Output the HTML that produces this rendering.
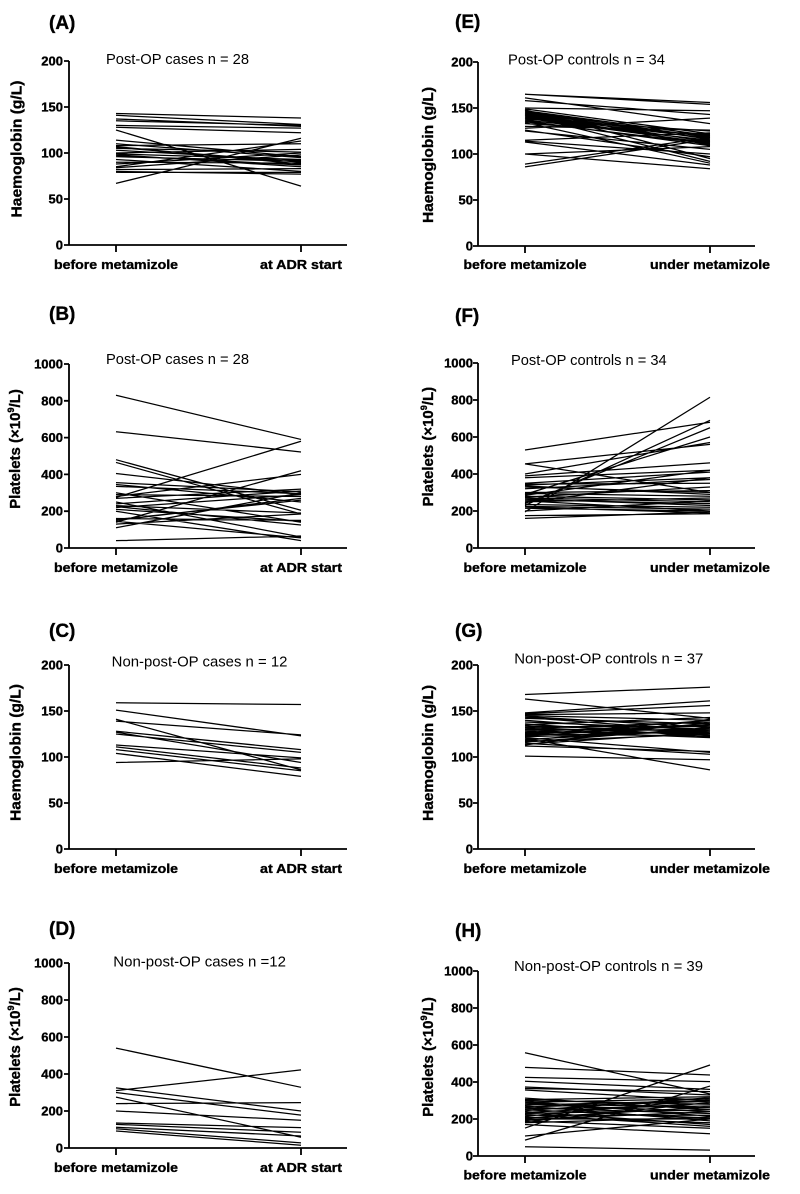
<!DOCTYPE html>
<html>
<head>
<meta charset="utf-8">
<style>
html,body{margin:0;padding:0;background:#fff;}
svg{display:block;}
text{font-family:"Liberation Sans",Arial,sans-serif;fill:#000;}
.tk{font-size:13px;font-weight:bold;text-anchor:end;stroke:#000;stroke-width:0.35;}
.cat{font-size:13px;font-weight:bold;text-anchor:middle;stroke:#000;stroke-width:0.35;}
.ttl{font-size:19px;font-weight:bold;stroke:#000;stroke-width:0.35;}
.sub{font-size:14.7px;}
.yl{font-size:15px;font-weight:bold;text-anchor:middle;stroke:#000;stroke-width:0.35;}
.ax{stroke:#000;stroke-width:1.8;fill:none;}
.dl{stroke:#000;stroke-width:1.25;fill:none;vector-effect:non-scaling-stroke;}
</style>
</head>
<body>
<svg width="800" height="1194" viewBox="0 0 800 1194" xmlns="http://www.w3.org/2000/svg">

<!-- Panel A -->
<g transform="translate(69,245)">
  <text class="ttl" x="-20" y="-216">(A)</text>
  <text class="sub" x="37" y="-181" textLength="143" lengthAdjust="spacingAndGlyphs">Post-OP cases n = 28</text>
  <path class="ax" d="M0,-184V0H278M-5,0H0M-5,-46H0M-5,-92H0M-5,-138H0M-5,-184H0M47,0V7M232,0V7"/>
  <text class="tk" x="-6" y="4.5">0</text>
  <text class="tk" x="-6" y="-41.5">50</text>
  <text class="tk" x="-6" y="-87.5">100</text>
  <text class="tk" x="-6" y="-133.5">150</text>
  <text class="tk" x="-6" y="-179.5">200</text>
  <text class="cat" x="47" y="24" textLength="124" lengthAdjust="spacingAndGlyphs">before metamizole</text>
  <text class="cat" x="232" y="24" textLength="82" lengthAdjust="spacingAndGlyphs">at ADR start</text>
  <text class="yl" transform="translate(-47.5,-96) rotate(-90)" textLength="137" lengthAdjust="spacingAndGlyphs">Haemoglobin (g/L)</text>
</g>
<path class="dl" transform="translate(116,245) scale(185,-0.92)" d="M0 143L1 138M0 141L1 131M0 137L1 129M0 135L1 130M0 130L1 127M0 128L1 122M0 125L1 64M0 114L1 96M0 110L1 95M0 108L1 110M0 107L1 88M0 106L1 90M0 105L1 101M0 103L1 92M0 100L1 104M0 99L1 93M0 98L1 85M0 97L1 87M0 96L1 91M0 93L1 80M0 90L1 89M0 88L1 100M0 85L1 113M0 84L1 98M0 82L1 83M0 80L1 77M0 79L1 79M0 67L1 116"/>

<!-- Panel B -->
<g transform="translate(69,548)">
  <text class="ttl" x="-20" y="-228">(B)</text>
  <text class="sub" x="37" y="-184" textLength="143" lengthAdjust="spacingAndGlyphs">Post-OP cases n = 28</text>
  <path class="ax" d="M0,-184V0H278M-5,0H0M-5,-36.8H0M-5,-73.6H0M-5,-110.4H0M-5,-147.2H0M-5,-184H0M47,0V7M232,0V7"/>
  <text class="tk" x="-6" y="4.5">0</text>
  <text class="tk" x="-6" y="-32.3">200</text>
  <text class="tk" x="-6" y="-69.1">400</text>
  <text class="tk" x="-6" y="-105.9">600</text>
  <text class="tk" x="-6" y="-142.7">800</text>
  <text class="tk" x="-6" y="-179.5">1000</text>
  <text class="cat" x="47" y="24" textLength="124" lengthAdjust="spacingAndGlyphs">before metamizole</text>
  <text class="cat" x="232" y="24" textLength="82" lengthAdjust="spacingAndGlyphs">at ADR start</text>
  <text class="yl" transform="translate(-49,-99) rotate(-90)">Platelets (×10<tspan font-size="9" dy="-6">9</tspan><tspan dy="6">/L)</tspan></text>
</g>
<path class="dl" transform="translate(116,548) scale(185,-0.184)" d="M0 830L1 590M0 632L1 522M0 480L1 205M0 465L1 185M0 405L1 290M0 355L1 305M0 345L1 250M0 335L1 295M0 300L1 140M0 290L1 280M0 280L1 400M0 275L1 580M0 270L1 320M0 250L1 60M0 240L1 310M0 230L1 190M0 225L1 125M0 220L1 290M0 210L1 145M0 200L1 40M0 160L1 150M0 155L1 260M0 150L1 270M0 145L1 55M0 140L1 420M0 130L1 185M0 110L1 300M0 40L1 65"/>

<!-- Panel C -->
<g transform="translate(69,849)">
  <text class="ttl" x="-20" y="-212">(C)</text>
  <text class="sub" x="42.7" y="-182.3" textLength="175.7" lengthAdjust="spacingAndGlyphs">Non-post-OP cases n = 12</text>
  <path class="ax" d="M0,-184V0H278M-5,0H0M-5,-46H0M-5,-92H0M-5,-138H0M-5,-184H0M47,0V7M232,0V7"/>
  <text class="tk" x="-6" y="4.5">0</text>
  <text class="tk" x="-6" y="-41.5">50</text>
  <text class="tk" x="-6" y="-87.5">100</text>
  <text class="tk" x="-6" y="-133.5">150</text>
  <text class="tk" x="-6" y="-179.5">200</text>
  <text class="cat" x="47" y="24" textLength="124" lengthAdjust="spacingAndGlyphs">before metamizole</text>
  <text class="cat" x="232" y="24" textLength="82" lengthAdjust="spacingAndGlyphs">at ADR start</text>
  <text class="yl" transform="translate(-48.3,-96.5) rotate(-90)" textLength="137" lengthAdjust="spacingAndGlyphs">Haemoglobin (g/L)</text>
</g>
<path class="dl" transform="translate(116,849) scale(185,-0.92)" d="M0 159L1 157M0 151L1 123M0 141L1 86M0 139L1 124M0 128L1 108M0 127L1 94M0 125L1 105M0 113L1 99M0 111L1 88M0 108L1 85M0 104L1 79M0 94L1 98"/>

<!-- Panel D -->
<g transform="translate(69,1148)">
  <text class="ttl" x="-20" y="-213">(D)</text>
  <text class="sub" x="44.3" y="-181.3" textLength="172.7" lengthAdjust="spacingAndGlyphs">Non-post-OP cases n =12</text>
  <path class="ax" d="M0,-185V0H278M-5,0H0M-5,-37H0M-5,-74H0M-5,-111H0M-5,-148H0M-5,-185H0M47,0V7M232,0V7"/>
  <text class="tk" x="-6" y="4.5">0</text>
  <text class="tk" x="-6" y="-32.5">200</text>
  <text class="tk" x="-6" y="-69.5">400</text>
  <text class="tk" x="-6" y="-106.5">600</text>
  <text class="tk" x="-6" y="-143.5">800</text>
  <text class="tk" x="-6" y="-180.5">1000</text>
  <text class="cat" x="47" y="24" textLength="124" lengthAdjust="spacingAndGlyphs">before metamizole</text>
  <text class="cat" x="232" y="24" textLength="82" lengthAdjust="spacingAndGlyphs">at ADR start</text>
  <text class="yl" transform="translate(-49,-101) rotate(-90)">Platelets (×10<tspan font-size="9" dy="-6">9</tspan><tspan dy="6">/L)</tspan></text>
</g>
<path class="dl" transform="translate(116,1148) scale(185,-0.185)" d="M0 540L1 328M0 310L1 422M0 325L1 200M0 300L1 178M0 275L1 58M0 240L1 245M0 200L1 150M0 135L1 110M0 128L1 85M0 112L1 65M0 104L1 28M0 92L1 15"/>

<!-- Panel E -->
<g transform="translate(478,246)">
  <text class="ttl" x="-23" y="-218">(E)</text>
  <text class="sub" x="30" y="-181.7" textLength="157" lengthAdjust="spacingAndGlyphs">Post-OP controls n = 34</text>
  <path class="ax" d="M0,-184V0H277M-5,0H0M-5,-46H0M-5,-92H0M-5,-138H0M-5,-184H0M47,0V7M232,0V7"/>
  <text class="tk" x="-5" y="4.5">0</text>
  <text class="tk" x="-5" y="-41.5">50</text>
  <text class="tk" x="-5" y="-87.5">100</text>
  <text class="tk" x="-5" y="-133.5">150</text>
  <text class="tk" x="-5" y="-179.5">200</text>
  <text class="cat" x="47" y="23" textLength="123" lengthAdjust="spacingAndGlyphs">before metamizole</text>
  <text class="cat" x="232" y="23" textLength="120" lengthAdjust="spacingAndGlyphs">under metamizole</text>
  <text class="yl" transform="translate(-45,-91) rotate(-90)" textLength="136" lengthAdjust="spacingAndGlyphs">Haemoglobin (g/L)</text>
</g>
<path class="dl" transform="translate(525,246) scale(185,-0.92)" d="M0 165L1 156M0 165L1 154M0 161L1 133M0 158L1 143M0 150L1 147M0 149L1 122M0 148L1 95M0 147L1 120M0 146L1 118M0 145L1 116M0 144L1 113M0 143L1 110M0 142L1 92M0 142L1 119M0 141L1 117M0 140L1 114M0 139L1 112M0 138L1 125M0 137L1 115M0 136L1 109M0 135L1 111M0 134L1 90M0 133L1 121M0 130L1 126M0 128L1 139M0 126L1 97M0 125L1 105M0 115L1 123M0 114L1 100M0 113L1 88M0 100L1 108M0 100L1 84M0 89L1 118M0 86L1 116"/>

<!-- Panel F -->
<g transform="translate(478,548)">
  <text class="ttl" x="-23" y="-226">(F)</text>
  <text class="sub" x="33" y="-183" textLength="155.7" lengthAdjust="spacingAndGlyphs">Post-OP controls n = 34</text>
  <path class="ax" d="M0,-185V0H277M-5,0H0M-5,-37H0M-5,-74H0M-5,-111H0M-5,-148H0M-5,-185H0M47,0V7M232,0V7"/>
  <text class="tk" x="-5" y="4.5">0</text>
  <text class="tk" x="-5" y="-32.5">200</text>
  <text class="tk" x="-5" y="-69.5">400</text>
  <text class="tk" x="-5" y="-106.5">600</text>
  <text class="tk" x="-5" y="-143.5">800</text>
  <text class="tk" x="-5" y="-180.5">1000</text>
  <text class="cat" x="47" y="24" textLength="123" lengthAdjust="spacingAndGlyphs">before metamizole</text>
  <text class="cat" x="232" y="24" textLength="120" lengthAdjust="spacingAndGlyphs">under metamizole</text>
  <text class="yl" transform="translate(-45,-101.3) rotate(-90)">Platelets (×10<tspan font-size="9" dy="-6">9</tspan><tspan dy="6">/L)</tspan></text>
</g>
<path class="dl" transform="translate(525,548) scale(185,-0.185)" d="M0 530L1 680M0 455L1 560M0 455L1 300M0 400L1 570M0 390L1 460M0 380L1 420M0 350L1 410M0 345L1 350M0 340L1 380M0 335L1 290M0 330L1 300M0 320L1 370M0 300L1 310M0 295L1 280M0 290L1 600M0 285L1 420M0 280L1 260M0 275L1 330M0 270L1 250M0 265L1 230M0 260L1 240M0 255L1 200M0 250L1 270M0 245L1 380M0 240L1 650M0 235L1 220M0 230L1 690M0 225L1 210M0 220L1 190M0 215L1 200M0 200L1 255M0 195L1 815M0 175L1 185M0 160L1 195"/>

<!-- Panel G -->
<g transform="translate(478,849)">
  <text class="ttl" x="-23" y="-212">(G)</text>
  <text class="sub" x="36.3" y="-185.7" textLength="189" lengthAdjust="spacingAndGlyphs">Non-post-OP controls n = 37</text>
  <path class="ax" d="M0,-184V0H277M-5,0H0M-5,-46H0M-5,-92H0M-5,-138H0M-5,-184H0M47,0V7M232,0V7"/>
  <text class="tk" x="-5" y="4.5">0</text>
  <text class="tk" x="-5" y="-41.5">50</text>
  <text class="tk" x="-5" y="-87.5">100</text>
  <text class="tk" x="-5" y="-133.5">150</text>
  <text class="tk" x="-5" y="-179.5">200</text>
  <text class="cat" x="47" y="24" textLength="123" lengthAdjust="spacingAndGlyphs">before metamizole</text>
  <text class="cat" x="232" y="24" textLength="120" lengthAdjust="spacingAndGlyphs">under metamizole</text>
  <text class="yl" transform="translate(-45,-96) rotate(-90)" textLength="136" lengthAdjust="spacingAndGlyphs">Haemoglobin (g/L)</text>
</g>
<path class="dl" transform="translate(525,849) scale(185,-0.92)" d="M0 168L1 176M0 163L1 142M0 148L1 161M0 147L1 156M0 146L1 148M0 145L1 140M0 144L1 132M0 143L1 128M0 142L1 136M0 140L1 125M0 138L1 130M0 136L1 122M0 135L1 143M0 134L1 127M0 133L1 133M0 132L1 124M0 131L1 138M0 130L1 129M0 129L1 121M0 128L1 134M0 127L1 126M0 126L1 131M0 125L1 123M0 124L1 140M0 123L1 135M0 122L1 128M0 121L1 105M0 120L1 86M0 119L1 130M0 118L1 137M0 117L1 125M0 116L1 132M0 115L1 103M0 114L1 127M0 113L1 141M0 112L1 106M0 101L1 97"/>

<!-- Panel H -->
<g transform="translate(478,1156)">
  <text class="ttl" x="-23" y="-219">(H)</text>
  <text class="sub" x="36" y="-185" textLength="189" lengthAdjust="spacingAndGlyphs">Non-post-OP controls n = 39</text>
  <path class="ax" d="M0,-185V0H277M-5,0H0M-5,-37H0M-5,-74H0M-5,-111H0M-5,-148H0M-5,-185H0M47,0V7M232,0V7"/>
  <text class="tk" x="-5" y="4.5">0</text>
  <text class="tk" x="-5" y="-32.5">200</text>
  <text class="tk" x="-5" y="-69.5">400</text>
  <text class="tk" x="-5" y="-106.5">600</text>
  <text class="tk" x="-5" y="-143.5">800</text>
  <text class="tk" x="-5" y="-180.5">1000</text>
  <text class="cat" x="47" y="23.5" textLength="123" lengthAdjust="spacingAndGlyphs">before metamizole</text>
  <text class="cat" x="232" y="23.5" textLength="120" lengthAdjust="spacingAndGlyphs">under metamizole</text>
  <text class="yl" transform="translate(-45,-99) rotate(-90)">Platelets (×10<tspan font-size="9" dy="-6">9</tspan><tspan dy="6">/L)</tspan></text>
</g>
<path class="dl" transform="translate(525,1156) scale(185,-0.185)" d="M0 558L1 335M0 479L1 438M0 425L1 402M0 404L1 360M0 373L1 330M0 365L1 348M0 357L1 300M0 313L1 250M0 305L1 320M0 300L1 280M0 295L1 215M0 290L1 310M0 285L1 260M0 280L1 240M0 275L1 300M0 270L1 190M0 265L1 295M0 260L1 230M0 255L1 270M0 250L1 205M0 245L1 315M0 240L1 170M0 235L1 285M0 230L1 250M0 225L1 160M0 220L1 220M0 215L1 305M0 210L1 180M0 205L1 265M0 200L1 200M0 195L1 240M0 190L1 150M0 185L1 290M0 180L1 210M0 170L1 120M0 151L1 492M0 108L1 200M0 86L1 378M0 50L1 32"/>

</svg>
</body>
</html>
